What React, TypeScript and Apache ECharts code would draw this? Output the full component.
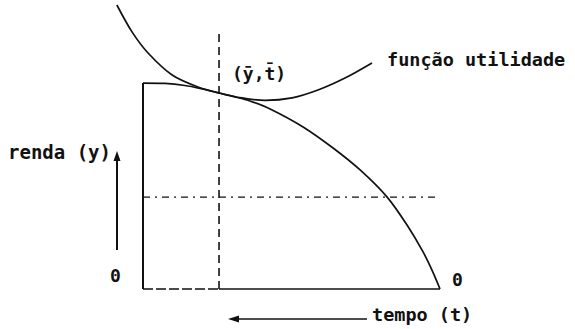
import React, { useEffect, useRef } from "react";
import * as echarts from "echarts";

// Production frontier (tempo t, renda y)
const tempoPPF = [10, 9.26, 8.59, 8.08, 7.44, 6.9, 6.4, 5.72, 4.61, 3.6, 2.69, 1.78, 1.11, 0.57, 0.24, 0];
const rendaPPF = [9.95, 9.93, 9.83, 9.69, 9.47, 9.28, 9.08, 8.7, 7.83, 6.81, 5.75, 4.44, 3.09, 1.79, 0.82, 0];

// Utility (indifference) curve
const tempoUtil = [10.88, 10.37, 9.83, 9.02, 8.15, 7.44, 6.67, 5.89, 4.98, 4.11, 3.2, 2.29];
const rendaUtil = [13.72, 12.42, 11.4, 10.34, 9.76, 9.47, 9.23, 9.11, 9.23, 9.61, 10.19, 10.92];

// Reference lines
const tangentT = 7.44;
const tangentTopY = 12.42;
const dashLevelY = 4.44;
const dashEndT = 0.1;
const tFrame = 10;
const yFrame = 9.95;
const tMax = 11;
const yMax = 13.8;

// Labels
const labelUtil = "função utilidade";
const labelPoint = "(ȳ,t̄)";
const labelRenda = "renda (y)";
const labelTempo = "tempo (t)";
const labelZero = "0";

const FONT = "'DejaVu Sans Mono', monospace";

export default function App() {
  const ref = useRef<HTMLDivElement>(null);

  useEffect(() => {
    if (!ref.current) return;
    const chart = echarts.init(ref.current, undefined, { renderer: "svg" });
    const black = "#111";
    const ppf = tempoPPF.map((t, i) => [t, rendaPPF[i]]);
    const util = tempoUtil.map((t, i) => [t, rendaUtil[i]]);
    const base = {
      type: "line",
      symbol: "none",
      silent: true,
      clip: false,
    };
    const text = (x: number, y: number, s: string, size: number) => ({
      type: "text",
      x,
      y,
      style: {
        text: s,
        fill: black,
        fontFamily: FONT,
        fontWeight: "bold",
        fontSize: size,
        textVerticalAlign: "middle",
      },
    });
    chart.setOption({
      animation: false,
      backgroundColor: "#fff",
      grid: { left: 440 - tMax * 29.7, right: 135, top: 289 - yMax * 20.7, bottom: 40 },
      xAxis: { type: "value", inverse: true, min: 0, max: tMax, show: false },
      yAxis: { type: "value", min: 0, max: yMax, show: false },
      series: [
        {
          ...base,
          data: ppf,
          smooth: 0.3,
          lineStyle: { color: black, width: 1.7 },
        },
        {
          ...base,
          data: util,
          smooth: 0.3,
          lineStyle: { color: black, width: 1.7 },
        },
        {
          ...base,
          data: [[tFrame, 0], [tFrame, yFrame]],
          lineStyle: { color: black, width: 2 },
        },
        {
          ...base,
          data: [[tangentT, 0], [tangentT, tangentTopY]],
          lineStyle: { color: black, width: 1.6, type: [8, 5] },
        },
        {
          ...base,
          data: [[tFrame, dashLevelY], [dashEndT, dashLevelY]],
          lineStyle: { color: black, width: 1.3, type: [7, 5, 2, 5] },
        },
        {
          ...base,
          data: [[tFrame, 0], [tangentT, 0]],
          lineStyle: { color: black, width: 1.4, type: [10, 3] },
        },
        {
          ...base,
          data: [[tangentT, 0], [0, 0]],
          lineStyle: { color: black, width: 1.4 },
        },
      ],
      graphic: [
        text(387, 59, labelUtil, 18.5),
        text(232, 73, labelPoint, 18),
        text(8, 152, labelRenda, 19),
        text(372, 314, labelTempo, 18.5),
        text(110, 275, labelZero, 18),
        text(452, 279, labelZero, 18),
        {
          type: "line",
          shape: { x1: 117, y1: 250, x2: 117, y2: 160 },
          style: { stroke: black, lineWidth: 2 },
        },
        {
          type: "polygon",
          shape: { points: [[117, 151], [113.5, 161], [120.5, 161]] },
          style: { fill: black },
        },
        {
          type: "line",
          shape: { x1: 367, y1: 319, x2: 238, y2: 319 },
          style: { stroke: black, lineWidth: 1.6 },
        },
        {
          type: "polygon",
          shape: { points: [[228, 319], [239, 315.5], [239, 322.5]] },
          style: { fill: black },
        },
      ],
    });
    return () => chart.dispose();
  }, []);

  return (
    <div
      ref={ref}
      style={{ position: "absolute", left: 0, top: 0, width: 575, height: 329, background: "#fff" }}
    />
  );
}
